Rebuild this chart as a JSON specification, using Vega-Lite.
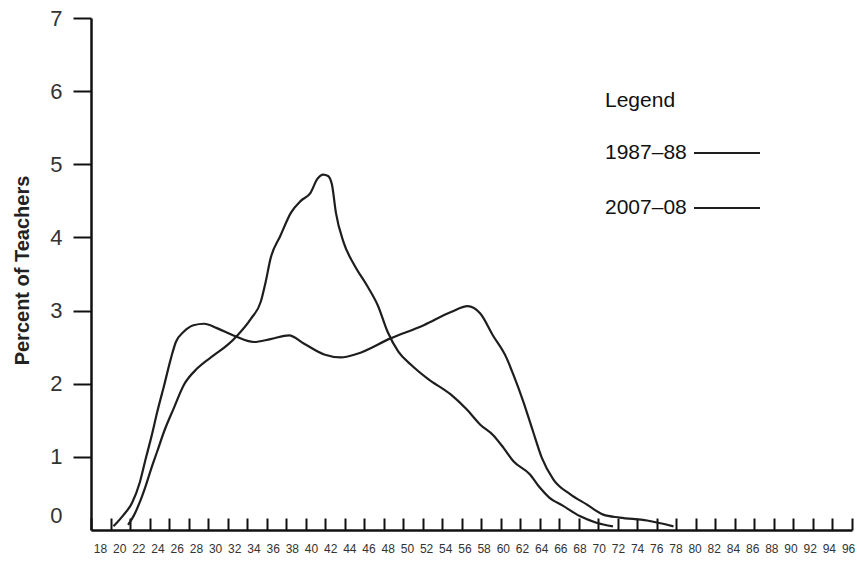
{
  "$schema": "https://vega.github.io/schema/vega-lite/v6.json",
  "width": 761,
  "height": 512,
  "autosize": "none",
  "padding": {"left": 91, "top": 18, "right": 5, "bottom": 32},
  "background": "white",
  "config": {"view": {"stroke": null}, "font": "Liberation Sans"},
  "data": {
    "values": [
      {"period": "1987–88", "age": 21.8, "pct": 0.07},
      {"period": "1987–88", "age": 22.4, "pct": 0.2},
      {"period": "1987–88", "age": 23.0, "pct": 0.38},
      {"period": "1987–88", "age": 23.6, "pct": 0.6},
      {"period": "1987–88", "age": 24.2, "pct": 0.85},
      {"period": "1987–88", "age": 24.8, "pct": 1.08},
      {"period": "1987–88", "age": 25.5, "pct": 1.35},
      {"period": "1987–88", "age": 26.5, "pct": 1.67},
      {"period": "1987–88", "age": 27.5, "pct": 1.98},
      {"period": "1987–88", "age": 28.9, "pct": 2.21},
      {"period": "1987–88", "age": 30.6, "pct": 2.39},
      {"period": "1987–88", "age": 32.0, "pct": 2.53},
      {"period": "1987–88", "age": 33.0, "pct": 2.66},
      {"period": "1987–88", "age": 34.4, "pct": 2.89},
      {"period": "1987–88", "age": 35.4, "pct": 3.12},
      {"period": "1987–88", "age": 35.9, "pct": 3.39},
      {"period": "1987–88", "age": 36.4, "pct": 3.71},
      {"period": "1987–88", "age": 37.4, "pct": 4.02},
      {"period": "1987–88", "age": 38.5, "pct": 4.34},
      {"period": "1987–88", "age": 39.5, "pct": 4.5},
      {"period": "1987–88", "age": 40.5, "pct": 4.61},
      {"period": "1987–88", "age": 41.2, "pct": 4.8},
      {"period": "1987–88", "age": 41.8, "pct": 4.86},
      {"period": "1987–88", "age": 42.3, "pct": 4.84},
      {"period": "1987–88", "age": 42.7, "pct": 4.72},
      {"period": "1987–88", "age": 43.1, "pct": 4.34},
      {"period": "1987–88", "age": 43.9, "pct": 3.93},
      {"period": "1987–88", "age": 45.0, "pct": 3.62},
      {"period": "1987–88", "age": 46.3, "pct": 3.34},
      {"period": "1987–88", "age": 47.4, "pct": 3.07},
      {"period": "1987–88", "age": 48.4, "pct": 2.71},
      {"period": "1987–88", "age": 49.5, "pct": 2.44},
      {"period": "1987–88", "age": 50.8, "pct": 2.26},
      {"period": "1987–88", "age": 52.5, "pct": 2.07},
      {"period": "1987–88", "age": 54.9, "pct": 1.85},
      {"period": "1987–88", "age": 56.5, "pct": 1.65},
      {"period": "1987–88", "age": 57.9, "pct": 1.44},
      {"period": "1987–88", "age": 59.2, "pct": 1.3},
      {"period": "1987–88", "age": 60.3, "pct": 1.12},
      {"period": "1987–88", "age": 61.3, "pct": 0.94},
      {"period": "1987–88", "age": 63.0, "pct": 0.76},
      {"period": "1987–88", "age": 64.0, "pct": 0.58},
      {"period": "1987–88", "age": 65.0, "pct": 0.44},
      {"period": "1987–88", "age": 66.4, "pct": 0.33},
      {"period": "1987–88", "age": 68.1, "pct": 0.19},
      {"period": "1987–88", "age": 69.8, "pct": 0.1},
      {"period": "1987–88", "age": 71.5, "pct": 0.05},
      {"period": "2007–08", "age": 20.3, "pct": 0.05},
      {"period": "2007–08", "age": 21.3, "pct": 0.2},
      {"period": "2007–08", "age": 22.2, "pct": 0.37},
      {"period": "2007–08", "age": 23.0, "pct": 0.65},
      {"period": "2007–08", "age": 23.6, "pct": 0.97},
      {"period": "2007–08", "age": 24.2, "pct": 1.28},
      {"period": "2007–08", "age": 24.8, "pct": 1.62},
      {"period": "2007–08", "age": 25.5, "pct": 1.98},
      {"period": "2007–08", "age": 26.2, "pct": 2.35},
      {"period": "2007–08", "age": 26.7, "pct": 2.57},
      {"period": "2007–08", "age": 27.5, "pct": 2.71},
      {"period": "2007–08", "age": 28.5, "pct": 2.8},
      {"period": "2007–08", "age": 29.6, "pct": 2.82},
      {"period": "2007–08", "age": 30.9, "pct": 2.76},
      {"period": "2007–08", "age": 32.6, "pct": 2.66},
      {"period": "2007–08", "age": 34.7, "pct": 2.57},
      {"period": "2007–08", "age": 36.4, "pct": 2.61},
      {"period": "2007–08", "age": 38.3, "pct": 2.66},
      {"period": "2007–08", "age": 39.8, "pct": 2.55},
      {"period": "2007–08", "age": 41.9, "pct": 2.4},
      {"period": "2007–08", "age": 43.6, "pct": 2.36},
      {"period": "2007–08", "age": 45.3, "pct": 2.41},
      {"period": "2007–08", "age": 48.7, "pct": 2.62},
      {"period": "2007–08", "age": 52.1, "pct": 2.8},
      {"period": "2007–08", "age": 54.9, "pct": 2.98},
      {"period": "2007–08", "age": 56.6, "pct": 3.06},
      {"period": "2007–08", "age": 57.9, "pct": 2.96},
      {"period": "2007–08", "age": 59.2, "pct": 2.66},
      {"period": "2007–08", "age": 60.6, "pct": 2.35},
      {"period": "2007–08", "age": 61.3, "pct": 2.12},
      {"period": "2007–08", "age": 62.3, "pct": 1.76},
      {"period": "2007–08", "age": 63.3, "pct": 1.35},
      {"period": "2007–08", "age": 64.2, "pct": 0.99},
      {"period": "2007–08", "age": 65.4, "pct": 0.69},
      {"period": "2007–08", "age": 67.1, "pct": 0.49},
      {"period": "2007–08", "age": 68.8, "pct": 0.35},
      {"period": "2007–08", "age": 70.5, "pct": 0.21},
      {"period": "2007–08", "age": 72.2, "pct": 0.17},
      {"period": "2007–08", "age": 75.0, "pct": 0.13},
      {"period": "2007–08", "age": 77.7, "pct": 0.05}
    ]
  },
  "mark": {"type": "line", "interpolate": "monotone", "strokeWidth": 2.2},
  "encoding": {
    "x": {
      "field": "age",
      "type": "quantitative",
      "scale": {"domain": [18, 96], "nice": false, "zero": false},
      "axis": {
        "values": [18,20,22,24,26,28,30,32,34,36,38,40,42,44,46,48,50,52,54,56,58,60,62,64,66,68,70,72,74,76,78,80,82,84,86,88,90,92,94,96],
        "title": null,
        "grid": false,
        "domainColor": "#111111",
        "domainWidth": 2.5,
        "tickColor": "#111111",
        "tickWidth": 2,
        "tickSize": -12,
        "labelPadding": 25,
        "labelFontSize": 12,
        "labelColor": "#333333",
        "labelFlush": false,
        "labelOverlap": false,
        "labelOffset": {"expr": "9 - 0.166 * (datum.value - 18)"}
      }
    },
    "y": {
      "field": "pct",
      "type": "quantitative",
      "scale": {"domain": [0, 7], "nice": false},
      "axis": {
        "values": [0, 1, 2, 3, 4, 5, 6, 7],
        "title": "Percent of Teachers",
        "titleFontSize": 20,
        "titleFontWeight": "bold",
        "titleColor": "#222222",
        "titleAngle": 270,
        "titleX": -69,
        "titleY": 252,
        "titleAlign": "center",
        "titleBaseline": "middle",
        "grid": false,
        "domainColor": "#111111",
        "domainWidth": 2.5,
        "tickColor": "#111111",
        "tickWidth": 2,
        "tickSize": 18,
        "tickOpacity": {"condition": {"test": "datum.value === 0", "value": 0}, "value": 1},
        "labelOffset": {"condition": {"test": "datum.value === 0", "value": -15}, "value": 0},
        "labelPadding": 11,
        "labelFontSize": 22,
        "labelColor": "#333333",
        "labelFlush": false
      }
    },
    "color": {
      "field": "period",
      "type": "nominal",
      "scale": {"domain": ["1987–88", "2007–08"], "range": ["#1e1e1e", "#1e1e1e"]},
      "legend": {
        "title": "Legend",
        "orient": "none",
        "legendX": 514,
        "legendY": 72,
        "padding": 0,
        "titleFontSize": 21,
        "titleFontWeight": "normal",
        "titleColor": "#111111",
        "titlePadding": 8,
        "labelFontSize": 21,
        "labelColor": "#111111",
        "symbolType": "stroke",
        "symbolSize": 4356,
        "symbolStrokeWidth": 2,
        "symbolOffset": 88,
        "labelOffset": -156,
        "rowPadding": 11
      }
    }
  }
}
